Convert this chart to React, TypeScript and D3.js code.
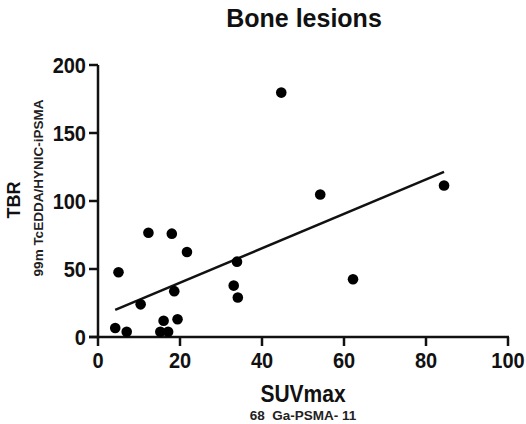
import React from "react";
import * as d3 from "d3";

// SUVmax (68Ga-PSMA-11) vs TBR (99mTc-EDDA/HYNIC-iPSMA), bone lesions
const suvmax = [4.2, 7.0, 5.0, 10.4, 12.3, 18.0, 21.7, 18.6, 16.0, 15.2, 17.1, 19.4, 33.9, 33.1, 34.1, 44.7, 54.2, 62.2, 84.4];
const tbr = [6.6, 3.9, 47.6, 24, 76.7, 76, 62.5, 33.7, 12, 3.9, 3.9, 13, 55.4, 37.8, 29, 179.7, 104.8, 42.5, 111.4];
const xTicks = [0, 20, 40, 60, 80, 100];
const yTicks = [0, 50, 100, 150, 200];

const points = suvmax.map((x, i) => ({ x, y: tbr[i] }));

const App = () => {
  const width = 526;
  const height = 424;
  const margin = { top: 65, right: 18, bottom: 87, left: 98 };

  const x = d3.scaleLinear().domain([0, 100]).range([margin.left, width - margin.right]);
  const y = d3.scaleLinear().domain([0, 200]).range([height - margin.bottom, margin.top]);

  // least squares fit
  const mx = d3.mean(points, d => d.x) as number;
  const my = d3.mean(points, d => d.y) as number;
  const sxy = d3.sum(points, d => (d.x - mx) * (d.y - my));
  const sxx = d3.sum(points, d => (d.x - mx) ** 2);
  const slope = sxy / sxx;
  const icpt = my - slope * mx;
  const [xmin, xmax] = d3.extent(suvmax) as [number, number];
  const fit = d3.line<number>().x(v => x(v)).y(v => y(icpt + slope * v));

  const font = "'Liberation Sans', Arial, sans-serif";
  const x0 = x(0);
  const y0 = y(0);
  const tall = 1.13; // glyphs in the original are slightly stretched vertically

  return (
    <svg width={width} height={height} style={{ position: "absolute", left: 0, top: 0, fontFamily: font }}>
      <rect width={width} height={height} fill="#fff" />
      <text transform={`translate(304,27) scale(1,1.05)`} textAnchor="middle" fontSize={25} fontWeight="bold" fill="#111">Bone lesions</text>

      {/* y axis */}
      <line x1={x0} x2={x0} y1={y(200)} y2={y0 + 1} stroke="#111" strokeWidth={2.5} />
      {yTicks.map(t => (
        <g key={"y" + t}>
          <line x1={x0 - 9} x2={x0} y1={y(t)} y2={y(t)} stroke="#111" strokeWidth={2.5} />
          <text transform={`translate(${x0 - 12},${y(t) + 8}) scale(1,${tall})`} textAnchor="end" fontSize={20} fontWeight="bold" fill="#111">{t}</text>
        </g>
      ))}

      {/* x axis */}
      <line x1={x0 - 9} x2={x(100) + 1} y1={y0} y2={y0} stroke="#111" strokeWidth={2.5} />
      {xTicks.map(t => (
        <g key={"x" + t}>
          <line x1={x(t)} x2={x(t)} y1={y0} y2={y0 + 9} stroke="#111" strokeWidth={2.5} />
          <text transform={`translate(${x(t)},${y0 + 31}) scale(1,${tall})`} textAnchor="middle" fontSize={20} fontWeight="bold" fill="#111">{t}</text>
        </g>
      ))}

      <text transform={`translate(${(x(0) + x(100)) / 2},402) scale(1,${tall})`} textAnchor="middle" fontSize={21} fontWeight="bold" fill="#111">SUVmax</text>
      <text x={(x(0) + x(100)) / 2} y={420} textAnchor="middle" fontSize={13.5} fontWeight="bold" fill="#222" style={{ whiteSpace: "pre" }}>{"68  Ga-PSMA- 11"}</text>

      <text transform={`translate(20,200) rotate(-90)`} textAnchor="middle" fontSize={18} fontWeight="bold" fill="#111">TBR</text>
      <text transform={`translate(43,188) rotate(-90)`} textAnchor="middle" fontSize={13.5} fontWeight="bold" fill="#222">99m TcEDDA/HYNIC-iPSMA</text>

      <path d={fit([xmin, xmax]) as string} fill="none" stroke="#111" strokeWidth={2.5} />

      {points.map((p, i) => (
        <circle key={i} cx={x(p.x)} cy={y(p.y)} r={5.3} fill="#000" />
      ))}
    </svg>
  );
};

export default App;
